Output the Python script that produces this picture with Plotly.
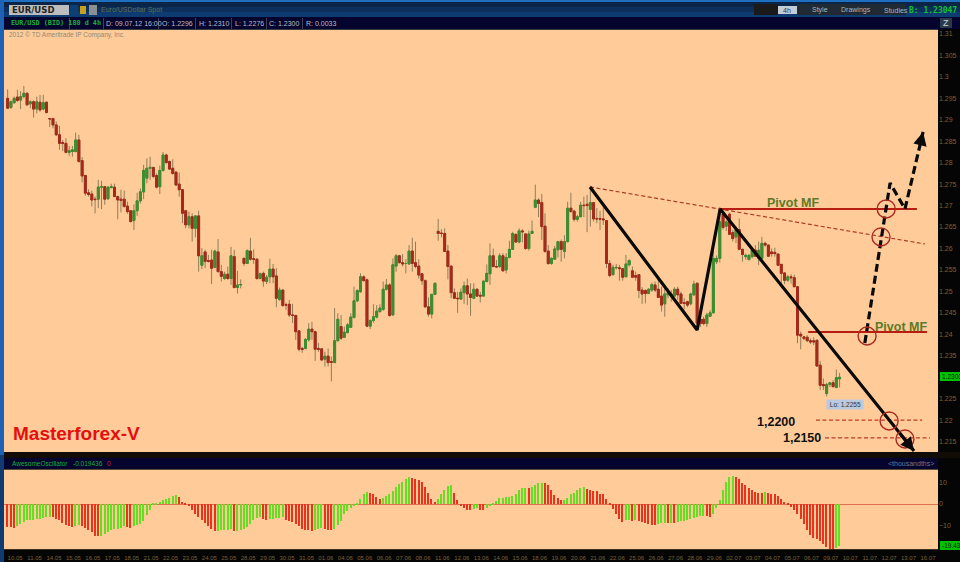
import plotly.graph_objects as go

# ---- candle data: prices x 10000, bar by bar ----
body_tops = [
12950,12942,12950,12953,12954,12962,12962,12942,12942,12942,
12941,12940,12941,12903,12903,12888,12865,12847,12845,12828,
12830,12853,12853,12805,12770,12730,12727,12715,12743,12744,
12744,12743,12744,12743,12721,12715,12715,12699,12688,12688,
12711,12732,12782,12787,12789,12789,12770,12782,12818,12818,
12803,12787,12778,12750,12737,12688,12674,12674,12676,12676,
12583,12592,12572,12573,12594,12592,12546,12540,12540,12583,
12581,12515,12516,12577,12595,12594,12576,12575,12541,12542,
12533,12552,12552,12536,12503,12503,12469,12470,12445,12444,
12408,12367,12388,12412,12412,12406,12367,12366,12349,12349,
12336,12385,12435,12418,12405,12422,12440,12478,12502,12534,
12534,12527,12432,12441,12454,12461,12505,12515,12515,12562,
12583,12583,12567,12565,12594,12594,12567,12559,12541,12525,
12464,12493,12519,12640,12636,12635,12594,12559,12497,12484,
12498,12513,12513,12494,12505,12505,12491,12524,12542,12583,
12583,12558,12583,12583,12579,12598,12635,12633,12641,12641,
12634,12634,12640,12713,12713,12707,12652,12594,12577,12599,
12616,12616,12616,12694,12694,12687,12674,12701,12701,12703,
12707,12707,12670,12670,12669,12665,12565,12556,12556,12555,
12553,12564,12572,12548,12537,12539,12503,12502,12505,12516,
12515,12505,12489,12494,12497,12494,12505,12505,12494,12474,
12476,12494,12517,12519,12435,12435,12445,12450,12577,12577,
12662,12680,12662,12680,12637,12644,12644,12598,12584,12584,
12596,12596,12596,12612,12612,12608,12592,12591,12587,12563,
12543,12534,12534,12532,12511,12400,12394,12393,12385,12385,
12386,12328,12283,12283,12287,12287,12299,12300]
highs = [
12971,12945,12954,12970,12967,12979,12963,12945,12945,12954,
12958,12958,12942,12904,12904,12896,12886,12853,12857,12839,
12839,12870,12865,12813,12772,12738,12735,12721,12760,12758,
12746,12744,12751,12751,12723,12737,12735,12709,12690,12703,
12730,12740,12795,12810,12814,12789,12775,12793,12825,12821,
12804,12808,12779,12777,12737,12690,12686,12682,12678,12688,
12601,12597,12585,12597,12597,12622,12562,12546,12558,12604,
12597,12548,12528,12579,12598,12625,12598,12577,12544,12546,
12538,12576,12564,12554,12509,12505,12474,12480,12471,12445,
12408,12371,12391,12426,12429,12408,12380,12367,12359,12367,
12348,12461,12449,12445,12418,12426,12449,12511,12505,12542,
12537,12530,12435,12470,12468,12470,12523,12529,12519,12577,
12587,12585,12587,12575,12608,12625,12616,12575,12542,12528,
12486,12495,12520,12669,12645,12647,12608,12559,12507,12499,
12507,12523,12530,12519,12519,12507,12499,12524,12563,12612,
12600,12573,12589,12589,12589,12618,12639,12634,12647,12645,
12635,12642,12665,12749,12717,12727,12682,12608,12579,12606,
12618,12621,12631,12709,12730,12690,12678,12709,12721,12725,
12746,12707,12694,12688,12696,12666,12573,12562,12564,12562,
12554,12585,12575,12558,12546,12540,12510,12505,12507,12520,
12523,12527,12511,12515,12507,12503,12510,12511,12499,12484,
12478,12497,12525,12520,12445,12441,12450,12456,12619,12584,
12697,12689,12666,12683,12644,12651,12670,12600,12588,12587,
12600,12608,12616,12627,12616,12609,12600,12602,12588,12564,
12545,12538,12540,12539,12512,12406,12396,12398,12390,12393,
12388,12338,12297,12287,12289,12293,12318,12310]
lows = [
12925,12925,12937,12942,12925,12950,12932,12927,12905,12915,
12919,12922,12915,12883,12880,12862,12830,12827,12822,12816,
12814,12824,12800,12754,12723,12721,12698,12682,12694,12692,
12702,12713,12740,12720,12668,12684,12695,12681,12660,12643,
12676,12705,12715,12752,12760,12764,12740,12727,12779,12799,
12783,12772,12746,12721,12659,12647,12647,12616,12626,12546,
12552,12554,12567,12517,12554,12544,12523,12527,12527,12515,
12507,12495,12507,12559,12564,12572,12564,12527,12528,12511,
12517,12519,12519,12463,12478,12464,12457,12440,12426,12387,
12360,12357,12365,12383,12387,12338,12359,12339,12325,12325,
12290,12334,12383,12387,12391,12402,12415,12437,12475,12497,
12523,12418,12412,12427,12437,12450,12455,12502,12441,12444,
12546,12565,12558,12542,12562,12546,12554,12530,12515,12461,
12441,12437,12492,12618,12626,12593,12528,12484,12482,12450,
12480,12471,12468,12443,12482,12488,12474,12488,12521,12515,
12556,12555,12554,12546,12542,12577,12597,12614,12612,12614,
12597,12595,12635,12694,12673,12620,12590,12562,12562,12575,
12579,12569,12577,12614,12684,12663,12663,12673,12673,12638,
12651,12663,12659,12643,12655,12554,12533,12537,12551,12525,
12525,12533,12558,12531,12525,12484,12471,12472,12494,12499,
12498,12484,12453,12441,12484,12476,12488,12480,12471,12458,
12463,12468,12490,12410,12417,12421,12417,12441,12449,12564,
12567,12644,12641,12631,12616,12613,12596,12569,12574,12573,
12577,12581,12561,12573,12604,12581,12581,12581,12559,12518,
12517,12522,12518,12509,12379,12365,12386,12382,12377,12375,
12324,12270,12270,12255,12277,12276,12274,12276]
body_bottoms = [
12927,12929,12940,12945,12946,12954,12935,12937,12925,12925,
12923,12925,12917,12902,12888,12865,12845,12845,12824,12824,
12826,12826,12803,12769,12729,12726,12713,12714,12715,12743,
12715,12716,12742,12721,12713,12712,12698,12686,12663,12665,
12688,12711,12732,12764,12787,12768,12743,12744,12782,12800,
12785,12775,12748,12737,12682,12655,12655,12647,12647,12583,
12561,12570,12570,12554,12556,12546,12535,12530,12530,12530,
12509,12509,12515,12565,12565,12575,12575,12530,12530,12524,
12523,12534,12534,12484,12481,12467,12468,12445,12444,12406,
12365,12365,12367,12387,12406,12365,12365,12340,12342,12334,
12335,12334,12385,12391,12393,12404,12416,12439,12478,12499,
12525,12419,12419,12432,12440,12453,12458,12505,12444,12445,
12559,12567,12564,12565,12564,12565,12558,12538,12525,12464,
12447,12447,12493,12635,12635,12593,12558,12497,12484,12483,
12482,12497,12494,12486,12484,12489,12489,12489,12523,12541,
12558,12557,12558,12548,12550,12579,12598,12615,12615,12639,
12600,12600,12635,12696,12705,12651,12593,12565,12565,12575,
12597,12598,12593,12616,12686,12668,12668,12674,12700,12700,
12691,12669,12669,12668,12667,12565,12537,12539,12555,12553,
12533,12534,12562,12533,12533,12502,12494,12495,12495,12503,
12503,12486,12468,12471,12492,12489,12489,12492,12472,12472,
12468,12471,12492,12426,12425,12425,12425,12442,12450,12569,
12577,12649,12652,12633,12623,12627,12598,12586,12581,12574,
12581,12582,12577,12577,12608,12582,12588,12588,12561,12542,
12526,12526,12532,12511,12398,12396,12390,12385,12382,12382,
12326,12281,12280,12262,12283,12278,12276,12296]
directions = (
"RGGRGGRGRG" "RGRRRRRRRG" "GGRRRRRRGG" "RGGRRRRRRG" "GGGGGRRGGR"
"RRRRRRGRGR" "GRRRGRRGRG" "RGGRGRRRGR" "GGRRGRRRRR" "RRGGRRRRGR"
"RGGRGGGGGG" "RRGGGGGGRG" "GRRRGRRRRR" "RGGRRRRRRR" "GGRRGRRGGG"
"RRGRGGGRGR" "RGGGRRRRGG" "GRGGRRGGRR" "GRRRRRRGGR" "RGGRRRRRGG"
"RRRGGRGRRR" "RGGRRRGGGG" "GRGRRGRRGG" "GRGGRRRRRR" "RGRRRRRRRR"
"RRRGGRGG")

# ---- Awesome Oscillator, thousandths ----
ao_values = [
-10.70,-10.85,-11.01,-10.23,-9.15,-8.37,-7.60,-7.44,-7.29,-7.13,
-6.98,-6.67,-6.20,-5.89,-6.20,-6.98,-7.60,-8.84,-9.61,-10.39,
-10.70,-10.08,-9.77,-10.08,-11.01,-11.94,-13.18,-14.88,-15.04,-14.88,
-14.11,-13.18,-12.25,-11.78,-11.47,-11.32,-10.39,-10.70,-11.01,-10.23,
-9.92,-9.15,-7.91,-5.27,-2.64,0.16,0.62,1.09,1.71,2.33,
2.95,3.57,4.03,3.10,0.93,0.16,-1.09,-2.64,-4.50,-6.05,
-7.60,-8.84,-10.23,-11.78,-12.56,-12.40,-12.25,-12.09,-11.94,-11.78,
-12.56,-12.40,-12.25,-11.63,-10.70,-9.15,-7.60,-6.51,-6.20,-6.82,
-7.29,-7.13,-6.98,-6.67,-6.36,-6.20,-7.29,-8.06,-8.53,-9.46,
-10.39,-11.63,-11.94,-12.25,-12.40,-11.94,-11.63,-11.32,-11.63,-11.94,
-12.25,-11.63,-9.92,-7.91,-4.50,-3.26,-2.02,-0.78,0.16,2.33,
4.50,5.58,4.96,4.50,3.26,2.33,2.64,3.72,4.81,5.89,
7.91,9.15,10.23,11.47,12.40,12.09,11.78,11.01,10.08,7.91,
5.12,2.33,0.93,2.33,4.50,6.67,8.53,8.68,5.12,1.71,
-0.78,-1.86,-2.64,-2.95,-2.17,-1.71,-2.79,-2.95,-1.86,-0.62,
0.16,1.55,2.64,2.95,3.10,3.41,3.72,4.81,6.36,7.29,
7.60,7.44,7.91,8.68,9.61,9.92,9.77,8.68,6.36,4.03,
2.64,1.71,1.86,2.95,4.50,5.27,6.36,7.60,8.06,6.82,
6.51,6.20,5.89,4.81,4.50,2.48,0.16,-2.17,-4.50,-7.13,
-8.22,-7.60,-7.44,-7.75,-7.60,-7.91,-8.37,-8.84,-9.15,-9.61,
-9.77,-9.15,-8.99,-8.84,-8.99,-8.84,-8.99,-8.37,-8.06,-7.75,
-7.60,-6.82,-6.36,-5.89,-5.74,-5.43,-5.58,-6.20,-4.81,-1.71,
2.02,6.36,10.23,12.40,12.87,12.71,11.78,9.92,8.68,7.60,
6.36,5.58,5.27,5.12,5.43,4.96,4.81,4.65,3.88,2.33,
1.09,0.16,-1.55,-2.95,-4.50,-7.13,-9.46,-11.94,-14.57,-15.81,
-16.12,-17.36,-18.76,-20.00,-20.93,-21.55,-20.31,-19.436]

date_labels = [
"10.05","11.05","14.05","15.05","16.05","17.05","18.05","21.05","22.05","23.05",
"24.05","25.05","28.05","29.05","30.05","31.05","01.06","04.06","05.06","06.06",
"07.06","08.06","11.06","12.06","13.06","14.06","15.06","18.06","19.06","20.06",
"21.06","22.06","25.06","26.06","27.06","28.06","29.06","02.07","03.07","04.07",
"05.07","06.07","09.07","10.07","11.07","12.07","13.07","16.07"]

price_ticks = [1.215,1.22,1.225,1.235,1.24,1.245,1.25,1.255,1.26,1.265,
               1.27,1.275,1.28,1.285,1.29,1.295,1.3,1.305,1.31]
price_tick_labels = ["1.215","1.22","1.225","1.235","1.24","1.245","1.25","1.255","1.26","1.265",
                     "1.27","1.275","1.28","1.285","1.29","1.295","1.3","1.305","1.31"]

# ---- hand-drawn analysis, in bar number / price ----
swing_bars = [179.9, 213.0, 220.1, 280.0]
swing_prices = [1.27434, 1.24100, 1.26921, 1.21280]
forecast_bars = [264.8, 272.6, 277.2, 282.8]
forecast_prices = [1.23797, 1.27527, 1.26921, 1.28716]
trend_bars = [179.9, 283.4]
trend_prices = [1.27434, 1.26105]
pivot_upper_bars = [220.1, 280.9]
pivot_upper_prices = [1.26921, 1.26921]
pivot_lower_bars = [247.3, 284.0]
pivot_lower_prices = [1.24054, 1.24054]
target_1_bars = [249.7, 282.5]
target_1_prices = [1.2200, 1.2200]
target_2_bars = [252.5, 284.9]
target_2_prices = [1.21583, 1.21583]
circle_bars = [265.5, 271.4, 269.8, 272.3, 277.2]
circle_prices = [1.23960, 1.26921, 1.26268, 1.21979, 1.21559]

assert len(body_tops) == len(highs) == len(lows) == len(body_bottoms) == len(directions) == len(ao_values) == 258

bars = list(range(len(body_tops)))
opens = [(t if d == "R" else b) / 10000 for t, b, d in zip(body_tops, body_bottoms, directions)]
closes = [(b if d == "R" else t) / 10000 for t, b, d in zip(body_tops, body_bottoms, directions)]
high_p = [v / 10000 for v in highs]
low_p = [v / 10000 for v in lows]
body_high = [max(o, c) for o, c in zip(opens, closes)]
body_low = [min(o, c) for o, c in zip(opens, closes)]
ao_colors = ["#e8341c" if (i and ao_values[i] < ao_values[i - 1]) or i < 3 else "#66dd22" for i in range(len(ao_values))]

W, H = 960, 562
PEACH = "#FFCC99"
NAVY = "#04042E"
AXIS_TXT = "#77623a"
FONT = "Liberation Sans"
GREEN_BODY, RED_BODY = "#3a8f2f", "#a52a1a"
WICK = "#8f7d58"

fig = go.Figure()
fig.add_trace(go.Candlestick(x=bars, open=opens, high=high_p, low=low_p, close=closes, showlegend=False,
    increasing=dict(line=dict(color=WICK, width=1), fillcolor=GREEN_BODY),
    decreasing=dict(line=dict(color=WICK, width=1), fillcolor=RED_BODY), hoverinfo="skip", whiskerwidth=0))
fig.add_trace(go.Candlestick(x=bars, open=opens, high=body_high, low=body_low, close=closes, showlegend=False,
    increasing=dict(line=dict(color=GREEN_BODY, width=1), fillcolor=GREEN_BODY),
    decreasing=dict(line=dict(color=RED_BODY, width=1), fillcolor=RED_BODY), hoverinfo="skip", whiskerwidth=0))

def line(xs, ys, color, width, dash="solid"):
    fig.add_trace(go.Scatter(x=xs, y=ys, mode="lines", showlegend=False, hoverinfo="skip",
                             line=dict(color=color, width=width, dash=dash)))

line(trend_bars, trend_prices, "#b03a2a", 1.2, "4px,2.5px")
line(target_1_bars, target_1_prices, "#c0392b", 1.2, "4px,2.5px")
line(target_2_bars, target_2_prices, "#c0392b", 1.2, "4px,2.5px")
line(pivot_upper_bars, pivot_upper_prices, "#b81d12", 2)
line(pivot_lower_bars, pivot_lower_prices, "#b81d12", 2)
line(swing_bars, swing_prices, "#0a0a0a", 3.2)
line(forecast_bars, forecast_prices, "#0a0a0a", 3.2, "8px,4px")
fig.add_trace(go.Scatter(x=circle_bars, y=circle_prices, mode="markers", showlegend=False, hoverinfo="skip",
    marker=dict(symbol="circle-open", size=18, line=dict(color="#a82a22", width=1.4), color="#a82a22")))

fig.add_trace(go.Bar(x=bars, y=ao_values, marker=dict(color=ao_colors, line_width=0), width=0.45,
                     xaxis="x2", yaxis="y2", showlegend=False, hoverinfo="skip"))

def rect(x0, y0, x1, y1, color):
    return dict(type="rect", xref="paper", yref="paper", layer="below", line_width=0, fillcolor=color,
                x0=x0 / W, x1=x1 / W, y0=1 - y0 / H, y1=1 - y1 / H)

shapes = [
    rect(0, 0, 960, 2, "#1f6fc0"),
    rect(0, 2, 960, 7, "#0a2547"), rect(0, 7, 960, 12, "#0c2f5c"), rect(0, 12, 960, 17, "#0e3b72"),
    rect(0, 17, 960, 29, NAVY), rect(0, 29, 938, 30, "#3a3a3a"),
    rect(0, 0, 4, 455, "#1e62b8"), rect(0, 455, 4, 562, "#0e3b72"),
    rect(4, 452, 960, 458, "#120c06"), rect(4, 458, 938, 469, NAVY), rect(4, 469, 938, 470, "#5a4a30"),
    rect(4, 549, 938, 550, "#3a3020"),
    rect(9, 5, 69, 15, "#bdbdbd"), rect(70, 5, 78, 15, "#0c3f78"), rect(80, 6, 86, 14, "#c8a020"),
    rect(89, 5, 97, 15, "#8a8f90"),
    rect(754, 4, 778, 15, "#1a1a1a"), rect(778, 6, 797, 14, "#c3cdd8"), rect(797, 4, 906, 15, "#1f2a35"),
    rect(940, 18, 952, 28, "#2a3a4a"),
    rect(940, 372, 960, 381, "#00c000"), rect(940, 541, 960, 550, "#00c000"),
    rect(69, 18, 70, 29, "#3f3f5a"), rect(103, 18, 104, 29, "#3f3f5a"), rect(158, 18, 159, 29, "#3f3f5a"),
    rect(195, 18, 196, 29, "#3f3f5a"), rect(231, 18, 232, 29, "#3f3f5a"), rect(266, 18, 267, 29, "#3f3f5a"),
    rect(302, 18, 303, 29, "#3f3f5a"),
]

def label(x, y, text, size, color, anchor="left", family=FONT, bold=False, bg=None):
    return dict(xref="paper", yref="paper", x=x / W, y=1 - y / H, text=f"<b>{text}</b>" if bold else text,
                showarrow=False, xanchor=anchor, yanchor="middle", bgcolor=bg, borderpad=1,
                font=dict(size=size, color=color, family=family))

MONO = "DejaVu Sans Mono"
annos = [
    label(10, 10, "EUR/USD", 8.5, "#222222", family="DejaVu Sans", bold=True),
    label(99, 10.5, "Euro/USDollar Spot", 7, "#66705a"),
    label(9, 23, "EUR/USD (BID) 180 d 4h", 6.8, "#17b03a", family=MONO, bold=True),
    label(104, 23, "D: 09.07.12 16:00", 7, "#b8bcc4"),
    label(160, 23, "O: 1.2296", 7, "#b8bcc4"),
    label(197, 23, "H: 1.2310", 7, "#b8bcc4"),
    label(233, 23, "L: 1.2276", 7, "#b8bcc4"),
    label(267, 23, "C: 1.2300", 7, "#b8bcc4"),
    label(304, 23, "R: 0.0033", 7, "#b8bcc4"),
    label(7, 35.5, "2012 © TD Ameritrade IP Company, Inc.", 6.5, "#8f8877"),
    label(787, 10, "4h", 7, "#333333", anchor="center"),
    label(810, 10, "Style", 7, "#aeb4ba"),
    label(839, 10, "Drawings", 7, "#aeb4ba"),
    label(882, 10, "Studies", 7, "#aeb4ba"),
    label(907, 10, "B: 1.23047", 8, "#10c030", family=MONO, bold=True),
    label(946, 23, "Z", 9, "#cfd6dc", anchor="center"),
    label(11, 433, "Masterforex-V", 19, "#e60f0f", bold=True),
    label(765, 202.5, "Pivot MF", 12.5, "#5c7a28", bold=True),
    label(873, 326.5, "Pivot MF", 12.5, "#5c7a28", bold=True),
    label(755, 422, "1,2200", 12.5, "#111111", bold=True),
    label(781, 438, "1,2150", 12.5, "#111111", bold=True),
    label(845, 404, " Lo: 1.2255 ", 6.5, "#333333", anchor="center", bg="#b9c9e0"),
    label(10, 463, "AwesomeOscillator", 6.5, "#17b03a"),
    label(71, 463, "-0.019436", 6.5, "#17b03a"),
    label(105, 463, "0", 6.5, "#c03030"),
    label(936, 463, "&lt;thousandths&gt;", 7, "#6f7890", anchor="right"),
    label(940, 376.5, "1.2300", 6.5, "#062006"),
    label(940, 545.5, "-19.43", 6.5, "#062006"),
]
# arrow tips on the swing and forecast lines
for bx, py, tx, ty in [(swing_bars[2], swing_prices[2], swing_bars[3], swing_prices[3]),
                       (forecast_bars[2], forecast_prices[2], forecast_bars[3], forecast_prices[3])]:
    annos.append(dict(xref="x", yref="y", axref="x", ayref="y", x=tx, y=ty, ax=tx - (tx - bx) * 0.08,
                      ay=ty - (ty - py) * 0.08, text="", showarrow=True,
                      arrowhead=2, arrowsize=0.9, arrowwidth=3, arrowcolor="#0a0a0a"))

tick_bars = [2.3 + 6 * k for k in range(len(date_labels))]
px_per_bar = 3.237
xr = [(4 - 7.67) / px_per_bar, (938 - 7.67) / px_per_bar]
common_x = dict(range=xr, type="linear", domain=[4 / W, 938 / W], showgrid=False, zeroline=False, showline=False)

fig.update_layout(
    width=W, height=H, margin=dict(l=0, r=0, t=0, b=0, autoexpand=False), paper_bgcolor="#050505", plot_bgcolor=PEACH,
    font=dict(family=FONT), barmode="overlay", bargap=0, hovermode=False, showlegend=False,
    boxmode="overlay", boxgap=0.4, boxgroupgap=0,
    shapes=shapes, annotations=annos,
    xaxis=dict(**common_x, rangeslider=dict(visible=False), anchor="y", showticklabels=False, ticks=""),
    xaxis2=dict(**common_x, anchor="y2", matches="x", tickmode="array", tickvals=tick_bars, ticktext=date_labels,
                tickfont=dict(size=6, color=AXIS_TXT), ticks="outside", ticklen=3, tickcolor="#050505", tickangle=0),
    yaxis=dict(domain=[1 - 452 / H, 1 - 30 / H], range=[1.21256, 1.31093], side="right", anchor="x",
               tickmode="array", tickvals=price_ticks, ticktext=price_tick_labels,
               tickfont=dict(size=7, color=AXIS_TXT), showgrid=False, zeroline=False, ticks="", ticklen=2),
    yaxis2=dict(domain=[1 - 549 / H, 1 - 470 / H], range=[-20.9, 15.8], side="right", anchor="x2",
                tickmode="array", tickvals=[-10, 0, 10], tickfont=dict(size=7, color=AXIS_TXT),
                showgrid=False, zeroline=True, zerolinecolor="#e07050", zerolinewidth=1, ticks=""),
)
fig.write_html("out.html", config=dict(displayModeBar=False),
               post_script="document.body.style.margin='0';document.body.style.overflow='hidden';")
